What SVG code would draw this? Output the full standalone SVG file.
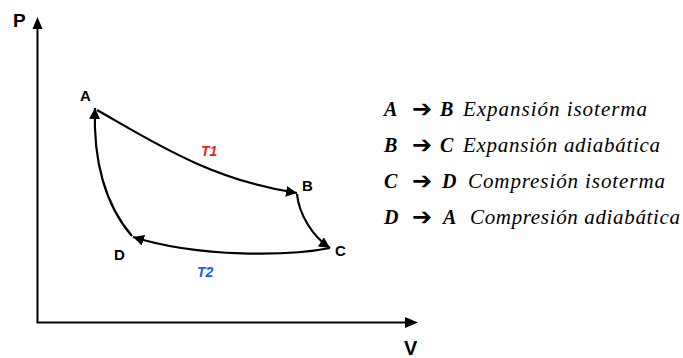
<svg xmlns="http://www.w3.org/2000/svg" width="683" height="358" viewBox="0 0 683 358">
<defs>
<style>
.ax{stroke:#000;stroke-width:2;fill:none}
.cv{stroke:#000;stroke-width:2.2;fill:none;marker-end:url(#ah)}
.lbl{font-family:"Liberation Sans",Arial,sans-serif;font-weight:bold;fill:#000}
.t{font-family:"Liberation Sans",Arial,sans-serif;font-weight:bold;font-style:italic;font-size:14px}
.lg{font-family:"Liberation Serif","Times New Roman",serif;font-style:italic;font-size:21px;fill:#000}
.lb{font-family:"Liberation Serif","Times New Roman",serif;font-style:italic;font-weight:bold;font-size:20px;fill:#000}
.arr{font-family:"DejaVu Sans",sans-serif;font-size:24px;font-weight:bold;fill:#000}
</style>
<marker id="ah" markerUnits="userSpaceOnUse" markerWidth="14" markerHeight="12" refX="11" refY="5.5" orient="auto">
<path d="M0,0 L11,5.5 L0,11 Z" fill="#000"/>
</marker>
</defs>
<g id="axes">
<line class="ax" x1="37.5" y1="323" x2="37.5" y2="28"/>
<path d="M32.5,29 L37.5,17 L42.5,29 Z" fill="#000"/>
<line class="ax" x1="36.5" y1="322.5" x2="406" y2="322.5"/>
<path d="M405,317 L418,322.5 L405,328 Z" fill="#000"/>
<text class="lbl" x="13" y="27" font-size="19">P</text>
<text class="lbl" x="404" y="355" font-size="20">V</text>
</g>
<g id="connectors">
<path class="cv" d="M97,110 C150,140 210,180 297,193"/>
<path class="cv" d="M297,194 C299,214 312,236 330,248"/>
<path class="cv" d="M330,248 C290,256 200,258 133,237"/>
<path class="cv" d="M132,236 C105,205 93,160 95,108"/>
</g>
<g id="node-A"><text class="lbl" x="80" y="101" font-size="15">A</text></g>
<g id="node-B"><text class="lbl" x="302" y="191" font-size="15">B</text></g>
<g id="node-C"><text class="lbl" x="335" y="256" font-size="15">C</text></g>
<g id="node-D"><text class="lbl" x="114" y="260" font-size="15">D</text></g>
<g id="label-T1"><text class="t" x="201" y="156" fill="#e8261c">T1</text></g>
<g id="label-T2"><text class="t" x="197" y="277" fill="#1a5cf0">T2</text></g>
<g id="legend">
<text class="lb" x="384" y="116">A</text>
<text class="arr" x="422" y="117" text-anchor="middle">➔</text>
<text class="lb" x="440" y="116">B</text>
<text class="lg" x="463" y="116" textLength="184" lengthAdjust="spacing">Expansión isoterma</text>
<text class="lb" x="384" y="152">B</text>
<text class="arr" x="422" y="153" text-anchor="middle">➔</text>
<text class="lb" x="440" y="152">C</text>
<text class="lg" x="463" y="152" textLength="197" lengthAdjust="spacing">Expansión adiabática</text>
<text class="lb" x="384" y="188">C</text>
<text class="arr" x="422" y="189" text-anchor="middle">➔</text>
<text class="lb" x="442" y="188">D</text>
<text class="lg" x="468" y="188" textLength="197" lengthAdjust="spacing">Compresión isoterma</text>
<text class="lb" x="384" y="224">D</text>
<text class="arr" x="422" y="225" text-anchor="middle">➔</text>
<text class="lb" x="443" y="224">A</text>
<text class="lg" x="470" y="224" textLength="210" lengthAdjust="spacing">Compresión adiabática</text>
</g>
</svg>
